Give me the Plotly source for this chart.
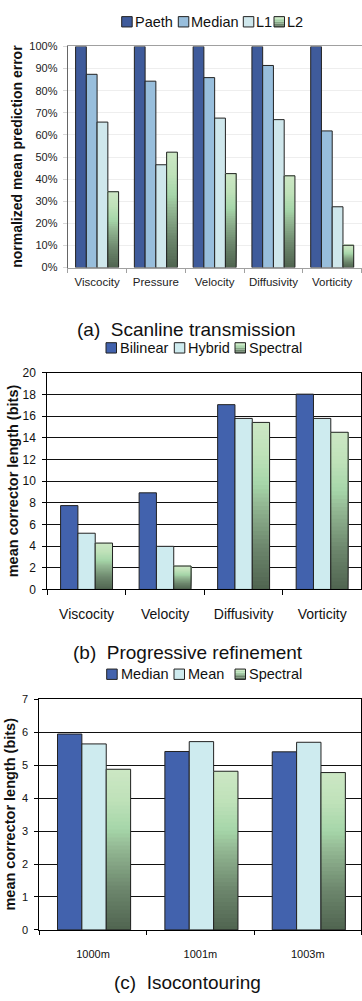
import plotly.graph_objects as go

W, H = 362, 1001

# ---------------- data ----------------
a_categories = ["Viscocity", "Pressure", "Velocity", "Diffusivity", "Vorticity"]
a_paeth = [100, 100, 100, 100, 100]
a_median = [87.4, 84.3, 85.9, 91.4, 61.8]
a_l1 = [65.8, 46.5, 67.6, 66.9, 27.5]
a_l2 = [34.3, 52.2, 42.5, 41.5, 10.1]
a_yticks = [0, 10, 20, 30, 40, 50, 60, 70, 80, 90, 100]
a_yticklabels = ["0%", "10%", "20%", "30%", "40%", "50%", "60%", "70%", "80%", "90%", "100%"]

b_categories = ["Viscocity", "Velocity", "Diffusivity", "Vorticity"]
b_bilinear = [7.74, 8.92, 17.06, 18.03]
b_hybrid = [5.19, 3.98, 15.79, 15.79]
b_spectral = [4.28, 2.16, 15.42, 14.51]
b_yticks = [0, 2, 4, 6, 8, 10, 12, 14, 16, 18, 20]

c_categories = ["1000m", "1001m", "1003m"]
c_median = [5.95, 5.42, 5.41]
c_mean = [5.65, 5.72, 5.70]
c_spectral = [4.88, 4.82, 4.78]
c_yticks = [0, 1, 2, 3, 4, 5, 6, 7]

# ---------------- style ----------------
FONT = "Liberation Sans, Arial, sans-serif"
EDGE = "#222222"
DARK_BLUE_A = "#3F5B9B"
LIGHT_BLUE_A = "#98BEDC"
PALE_A = "#CFE7EC"
BLUE_B = "#4262AD"
PALE_B = "#CEEBEF"

GRAD_STOPS = [
    (0.00, (80, 100, 80)),
    (0.25, (108, 134, 108)),
    (0.50, (146, 182, 146)),
    (0.63, (166, 214, 169)),
    (0.82, (192, 226, 186)),
    (1.00, (204, 231, 196)),
]


def grad_color(f):
    for (f0, c0), (f1, c1) in zip(GRAD_STOPS[:-1], GRAD_STOPS[1:]):
        if f0 <= f <= f1:
            t = (f - f0) / (f1 - f0)
            r, g, b = (round(c0[i] + (c1[i] - c0[i]) * t) for i in range(3))
            return f"rgb({r},{g},{b})"
    r, g, b = GRAD_STOPS[-1][1]
    return f"rgb({r},{g},{b})"


def px_x(p):
    return p / W


def px_y(p):
    return 1 - p / H


fig = go.Figure()


def solid_bars(x, vals, color, offset, width, xa, ya, name):
    fig.add_bar(x=x, y=vals, offset=offset, width=width, name=name,
                marker=dict(color=color, line=dict(color=EDGE, width=1)),
                xaxis=xa, yaxis=ya, showlegend=False)


def gradient_bars(x, vals, offset, width, xa, ya, name, n=40):
    # each layer reaches the bar top, later layers start higher -> smooth, seamless gradient
    for k in range(n):
        col = grad_color((k + 0.5) / n)
        fig.add_bar(x=x, y=[v * (1 - k / n) for v in vals], base=[v * k / n for v in vals],
                    offset=offset, width=width,
                    marker=dict(color=col, line=dict(width=0)),
                    xaxis=xa, yaxis=ya, showlegend=False, hoverinfo="skip")
    fig.add_bar(x=x, y=vals, offset=offset, width=width, name=name,
                marker=dict(color="rgba(0,0,0,0)", line=dict(color=EDGE, width=1)),
                xaxis=xa, yaxis=ya, showlegend=False)


# panel (a)
wa = 0.183
solid_bars(a_categories, a_paeth, DARK_BLUE_A, -2 * wa, wa, "x", "y", "Paeth")
solid_bars(a_categories, a_median, LIGHT_BLUE_A, -wa, wa, "x", "y", "Median")
solid_bars(a_categories, a_l1, PALE_A, 0, wa, "x", "y", "L1")
gradient_bars(a_categories, a_l2, wa, wa, "x", "y", "L2")

# panel (b)
wb = 0.2205
solid_bars(b_categories, b_bilinear, BLUE_B, -1.5 * wb, wb, "x2", "y2", "Bilinear")
solid_bars(b_categories, b_hybrid, PALE_B, -0.5 * wb, wb, "x2", "y2", "Hybrid")
gradient_bars(b_categories, b_spectral, 0.5 * wb, wb, "x2", "y2", "Spectral")

# panel (c)
wc = 0.227
solid_bars(c_categories, c_median, BLUE_B, -1.5 * wc + 0.01, wc, "x3", "y3", "Median")
solid_bars(c_categories, c_mean, PALE_B, -0.5 * wc + 0.01, wc, "x3", "y3", "Mean")
gradient_bars(c_categories, c_spectral, 0.5 * wc + 0.01, wc, "x3", "y3", "Spectral")

# ---------------- axes ----------------
tickfont_a = dict(family=FONT, size=11.5, color="#222")
fig.update_layout(
    xaxis=dict(domain=[px_x(67.7), px_x(361.6)], anchor="y", type="category",
               range=[-0.5, len(a_categories) - 0.5], tickson="boundaries",
               ticks="outside", ticklen=4, tickcolor="#A0A0A0", showline=True,
               linecolor="#A0A0A0", linewidth=1, mirror=True, showgrid=False,
               tickfont=tickfont_a, ticklabelstandoff=4, fixedrange=True),
    yaxis=dict(domain=[px_y(264.3), px_y(40)], anchor="x", range=[0, 100],
               tickmode="array", tickvals=a_yticks, ticktext=a_yticklabels,
               showgrid=True, gridcolor="#EEEEEE",
               showline=True, linecolor="#666666", linewidth=1, ticks="outside",
               ticklen=4, tickcolor="#D8D8D8", zeroline=False,
               tickfont=dict(family=FONT, size=11, color="#222"),
               ticklabelstandoff=3),
    xaxis2=dict(domain=[px_x(47.3), px_x(361.4)], anchor="y2", type="category",
                range=[-0.5, len(b_categories) - 0.5], tickson="boundaries",
                ticks="outside", ticklen=5, tickcolor="#000", showline=True,
                linecolor="#000", linewidth=1, mirror=True, showgrid=False,
                tickfont=dict(family=FONT, size=14, color="#111"), ticklabelstandoff=12),
    yaxis2=dict(domain=[px_y(590.7), px_y(371)], anchor="x2", range=[0, 20],
                tickvals=b_yticks, showgrid=True, gridcolor="#111111", gridwidth=1,
                showline=True, linecolor="#000", linewidth=1, mirror=True,
                ticks="outside", ticklen=4, tickcolor="#000", zeroline=False,
                tickfont=dict(family=FONT, size=12, color="#111"), ticklabelstandoff=4),
    xaxis3=dict(domain=[px_x(39.3), px_x(361.4)], anchor="y3", type="category",
                range=[-0.5, len(c_categories) - 0.5], tickson="boundaries",
                ticks="outside", ticklen=4, tickcolor="#000", showline=True,
                linecolor="#000", linewidth=1, mirror=True, showgrid=False,
                tickfont=dict(family=FONT, size=11, color="#111"), ticklabelstandoff=14),
    yaxis3=dict(domain=[px_y(936), px_y(702.3)], anchor="x3", range=[0, 7],
                tickvals=c_yticks, showgrid=True, gridcolor="#111111", gridwidth=1,
                showline=True, linecolor="#000", linewidth=1, mirror=True,
                ticks="outside", ticklen=4, tickcolor="#000", zeroline=False,
                tickfont=dict(family=FONT, size=11, color="#111"), ticklabelstandoff=4),
)

# ---------------- titles / legends ----------------
annotations = []
shapes = []


def text(xp, yp, s, size, bold=False, angle=0, xanchor="center"):
    annotations.append(dict(
        x=px_x(xp), y=px_y(yp), xref="paper", yref="paper", text=(f"<b>{s}</b>" if bold else s),
        showarrow=False, textangle=angle, xanchor=xanchor, yanchor="middle",
        font=dict(family=FONT, size=size, color="#111")))


text(17, 152, "normalized mean prediction error", 14, bold=True, angle=-90)
text(13, 481, "mean corrector length (bits)", 14.5, bold=True, angle=-90)
text(10, 819, "mean corrector length (bits)", 14.5, bold=True, angle=-90)

text(187, 327.5, "(a)\u00a0 Scanline transmission", 19)
text(187.5, 655, "(b)\u00a0 Progressive refinement", 19)
text(187.5, 989, "(c)\u00a0 Isocontouring", 19)


def legend_item(sx, cy, label, color, size=14, text_dx=2):
    s = 10.5
    x0, x1 = px_x(sx), px_x(sx + s)
    y0, y1 = px_y(cy + s / 2), px_y(cy - s / 2)
    if color == "gradient":
        n = 6
        for k in range(n):
            ya0 = px_y(cy + s / 2 - s * k / n)
            ya1 = px_y(cy + s / 2 - s * (k + 1) / n)
            shapes.append(dict(type="rect", xref="paper", yref="paper", x0=x0, x1=x1,
                               y0=ya0, y1=ya1, fillcolor=grad_color((k + 0.5) / n),
                               line=dict(width=0)))
        shapes.append(dict(type="rect", xref="paper", yref="paper", x0=x0, x1=x1,
                           y0=y0, y1=y1, line=dict(color=EDGE, width=1)))
    else:
        shapes.append(dict(type="rect", xref="paper", yref="paper", x0=x0, x1=x1,
                           y0=y0, y1=y1, fillcolor=color, line=dict(color=EDGE, width=1)))
    text(sx + s + text_dx, cy, label, size, xanchor="left")


legend_a = [("Paeth", DARK_BLUE_A, 121.7), ("Median", LIGHT_BLUE_A, 178.3),
            ("L1", PALE_A, 243.3), ("L2", "gradient", 274)]
for lab, col, sx in legend_a:
    legend_item(sx, 15, lab, col, size=14.5, text_dx=0.5)

legend_b = [("Bilinear", BLUE_B, 106), ("Hybrid", PALE_B, 174.3), ("Spectral", "gradient", 235)]
for lab, col, sx in legend_b:
    legend_item(sx, 345.7, lab, col, size=14.5, text_dx=1.5)

legend_c = [("Median", BLUE_B, 106.7), ("Mean", PALE_B, 174), ("Spectral", "gradient", 235)]
for lab, col, sx in legend_c:
    legend_item(sx, 676.7, lab, col, size=14.5, text_dx=1.5)

fig.update_layout(
    width=W, height=H, margin=dict(l=0, r=0, t=0, b=0),
    paper_bgcolor="white", plot_bgcolor="white",
    barmode="overlay", showlegend=False,
    annotations=annotations, shapes=shapes,
    font=dict(family=FONT, color="#111"),
)

fig.write_html("out.html")
